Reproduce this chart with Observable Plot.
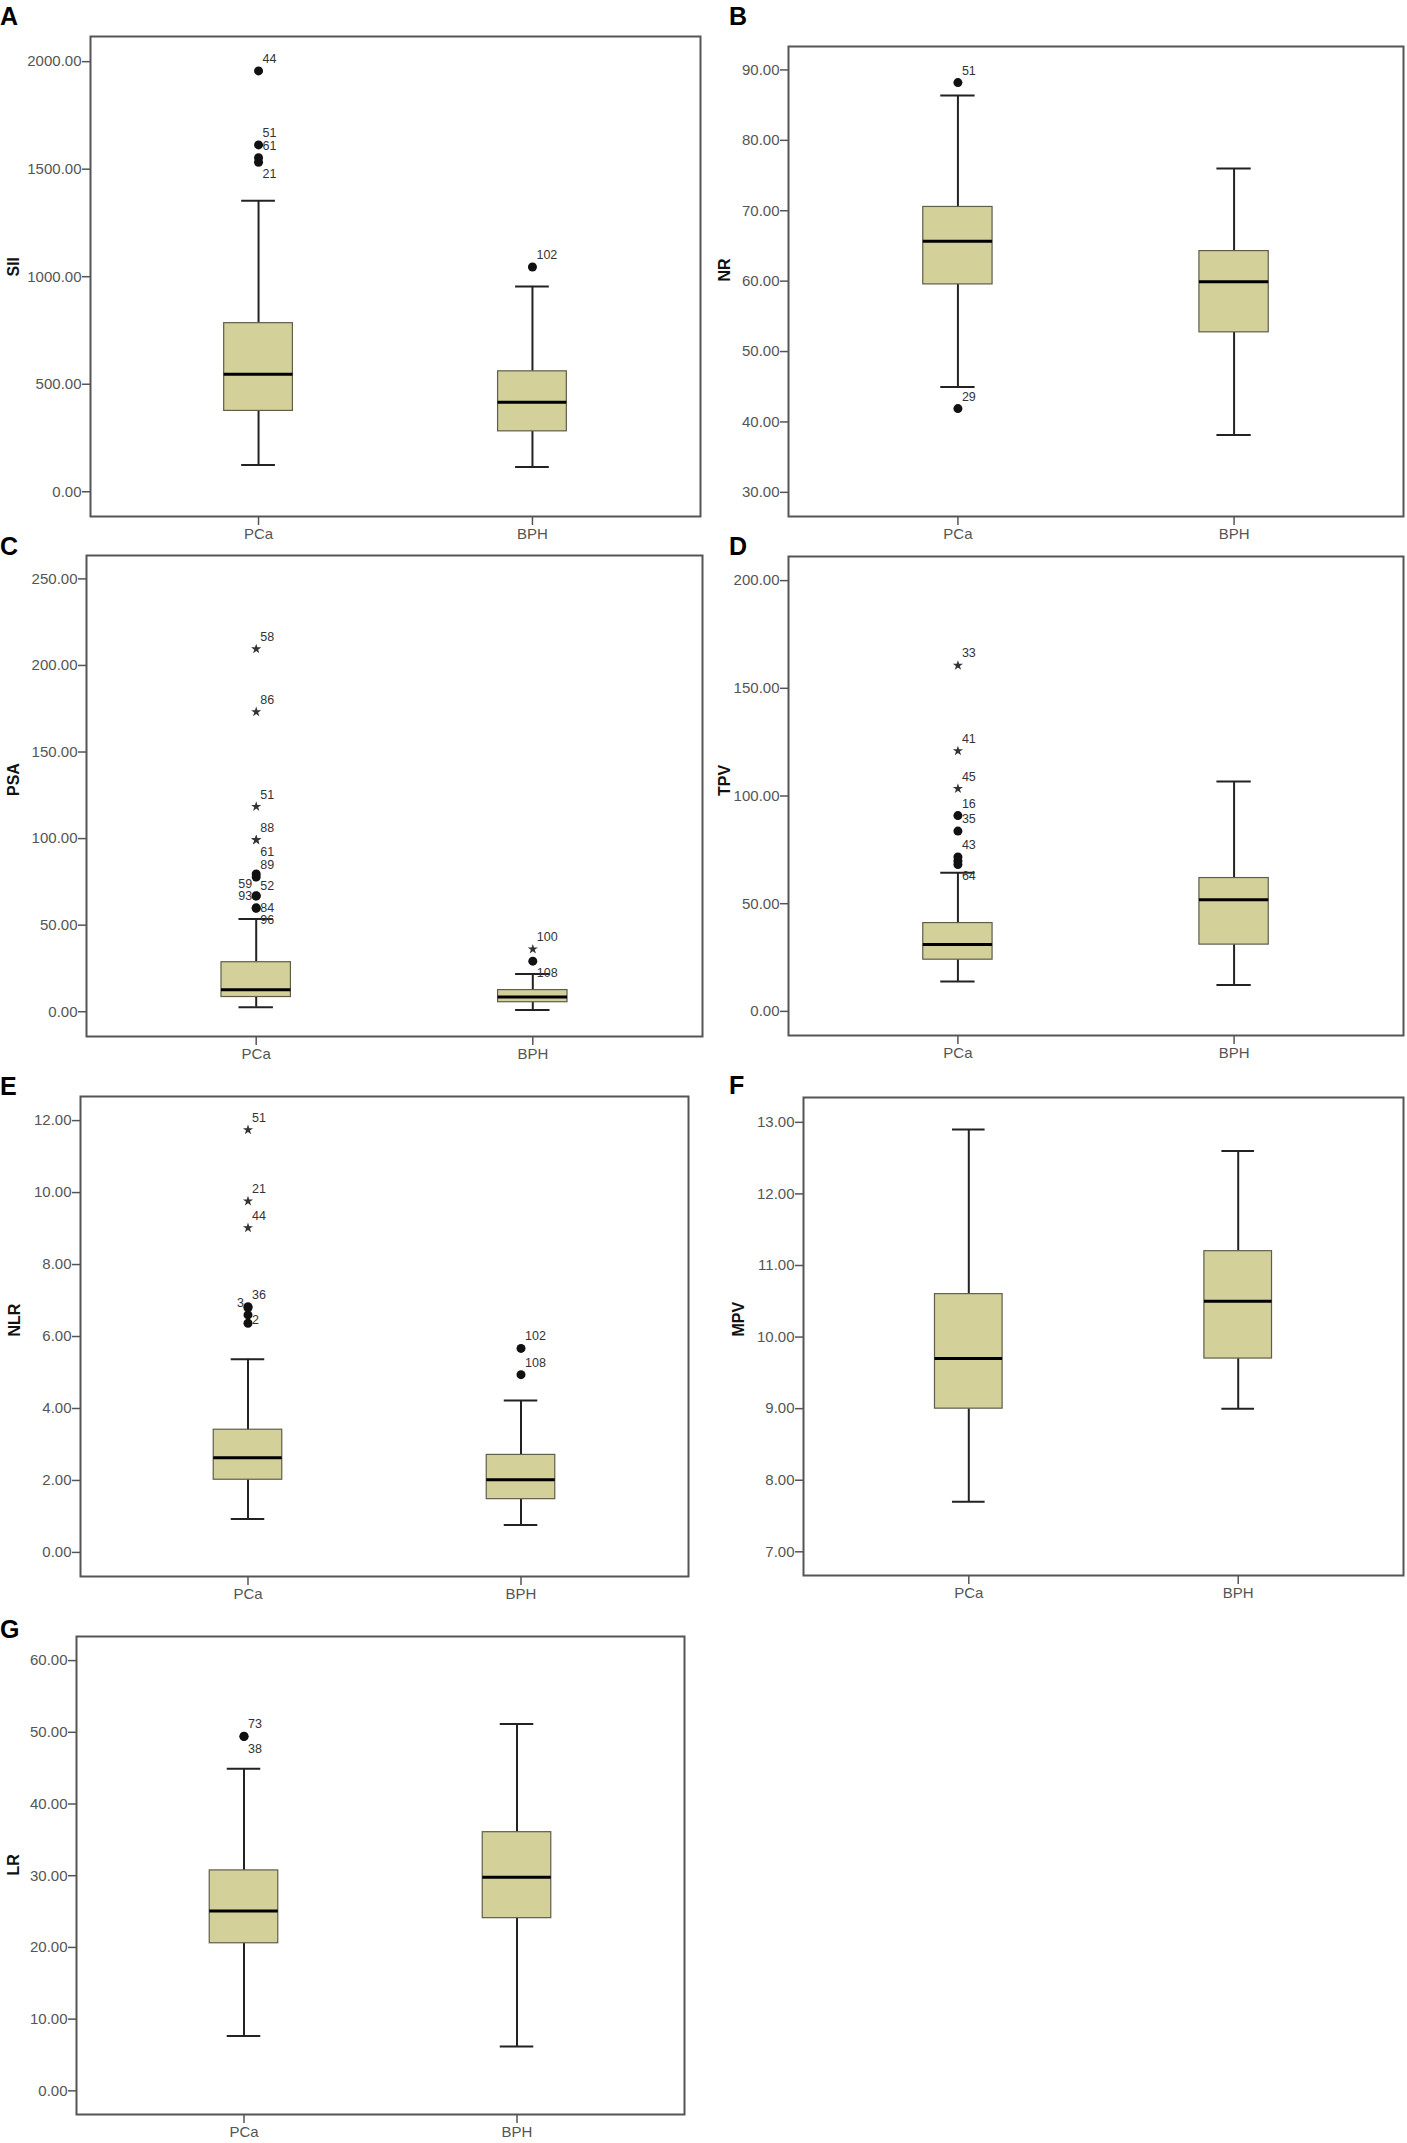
<!DOCTYPE html>
<html>
<head>
<meta charset="utf-8">
<script src="https://cdn.jsdelivr.net/npm/d3@7"></script>
<script src="https://cdn.jsdelivr.net/npm/@observablehq/plot@0.6"></script>
<style>
  body { margin: 0; background: #fff; }
  #root { position: relative; width: 1407px; height: 2143px; background: #fff; overflow: hidden; }
  .panel { position: absolute; }
  .letter { position: absolute; font: bold 25px "Liberation Sans", Arial, sans-serif; line-height: 25px; color: #000; }
</style>
</head>
<body>
<div id="root"></div>
<script>
// ---------------- DATA ----------------
const groups = ["PCa", "BPH"];
const panelLetters = ["A", "B", "C", "D", "E", "F", "G"];
const variableNames = ["SII", "NR", "PSA", "TPV", "NLR", "MPV", "LR"];

// five-number summaries: [lower whisker, Q1, median, Q3, upper whisker]
const siiPCa = [125, 376, 546, 784, 1353];
const siiBPH = [115, 281, 416, 560, 955];
const nrPCa  = [44.96, 59.54, 65.65, 70.54, 86.38];
const nrBPH  = [38.16, 52.73, 59.92, 64.27, 76.0];
const psaPCa = [2.6, 8.5, 12.7, 28.6, 53.6];
const psaBPH = [1.0, 5.5, 8.5, 12.5, 21.8];
const tpvPCa = [13.9, 24.0, 31.0, 41.0, 64.4];
const tpvBPH = [12.3, 31.0, 51.8, 61.9, 106.7];
const nlrPCa = [0.93, 2.02, 2.63, 3.41, 5.37];
const nlrBPH = [0.76, 1.48, 2.02, 2.71, 4.22];
const mpvPCa = [7.7, 9.0, 9.7, 10.6, 12.9];
const mpvBPH = [9.0, 9.7, 10.5, 11.2, 12.6];
const lrPCa  = [7.63, 20.58, 25.08, 30.74, 44.9];
const lrBPH  = [6.19, 24.08, 29.78, 36.07, 51.17];

// outliers (circle = outlier, star = extreme)
const siiOutliers = [
  {group: "PCa", value: 1957, label: "44", type: "circle"},
  {group: "PCa", value: 1613, label: "51", type: "circle"},
  {group: "PCa", value: 1553, label: "61", type: "circle"},
  {group: "PCa", value: 1532, label: "21", type: "circle"},
  {group: "BPH", value: 1045, label: "102", type: "circle"}
];
const nrOutliers = [
  {group: "PCa", value: 88.2, label: "51", type: "circle"},
  {group: "PCa", value: 41.9, label: "29", type: "circle"}
];
const psaOutliers = [
  {group: "PCa", value: 209.5, label: "58", type: "star"},
  {group: "PCa", value: 173.2, label: "86", type: "star"},
  {group: "PCa", value: 118.5, label: "51", type: "star"},
  {group: "PCa", value: 99.2, label: "88", type: "star"},
  {group: "PCa", value: 99.2, label: "61", type: "star"},
  {group: "PCa", value: 79.6, label: "52", type: "circle"},
  {group: "PCa", value: 77.8, label: "89", type: "circle"},
  {group: "PCa", value: 67.0, label: "84", type: "circle"},
  {group: "PCa", value: 66.8, label: "59", type: "circle"},
  {group: "PCa", value: 60.0, label: "96", type: "circle"},
  {group: "PCa", value: 59.8, label: "93", type: "circle"},
  {group: "BPH", value: 36.1, label: "100", type: "star"},
  {group: "BPH", value: 29.2, label: "108", type: "circle"}
];
const tpvOutliers = [
  {group: "PCa", value: 160.6, label: "33", type: "star"},
  {group: "PCa", value: 120.9, label: "41", type: "star"},
  {group: "PCa", value: 103.4, label: "45", type: "star"},
  {group: "PCa", value: 90.9, label: "16", type: "circle"},
  {group: "PCa", value: 83.7, label: "35", type: "circle"},
  {group: "PCa", value: 71.7, label: "43", type: "circle"},
  {group: "PCa", value: 69.8, label: "", type: "circle"},
  {group: "PCa", value: 68.2, label: "64", type: "circle"}
];
const nlrOutliers = [
  {group: "PCa", value: 11.74, label: "51", type: "star"},
  {group: "PCa", value: 9.76, label: "21", type: "star"},
  {group: "PCa", value: 9.02, label: "44", type: "star"},
  {group: "PCa", value: 6.83, label: "36", type: "circle"},
  {group: "PCa", value: 6.80, label: "2", type: "circle"},
  {group: "PCa", value: 6.60, label: "3", type: "circle"},
  {group: "PCa", value: 6.37, label: "", type: "circle"},
  {group: "BPH", value: 5.67, label: "102", type: "circle"},
  {group: "BPH", value: 4.94, label: "108", type: "circle"}
];
const mpvOutliers = [];
const lrOutliers = [
  {group: "PCa", value: 49.46, label: "73", type: "circle"},
  {group: "PCa", value: 49.40, label: "38", type: "circle"}
];

// y tick values per panel
const siiTicks = [0, 500, 1000, 1500, 2000];
const nrTicks  = [30, 40, 50, 60, 70, 80, 90];
const psaTicks = [0, 50, 100, 150, 200, 250];
const tpvTicks = [0, 50, 100, 150, 200];
const nlrTicks = [0, 2, 4, 6, 8, 10, 12];
const mpvTicks = [7, 8, 9, 10, 11, 12, 13];
const lrTicks  = [0, 10, 20, 30, 40, 50, 60];

// y axis extents per panel
const siiDomain = [-115, 2117];
const nrDomain  = [26.57, 93.33];
const psaDomain = [-14.3, 263.5];
const tpvDomain = [-11.2, 211.2];
const nlrDomain = [-0.669, 12.67];
const mpvDomain = [6.669, 13.347];
const lrDomain  = [-3.30, 63.36];

// ---------------- LAYOUT (styles) ----------------
// frame box of each panel in page pixels: [left, top, right, bottom]
const frames = [
  [90, 36, 700, 516],
  [788, 46, 1403, 516],
  [86, 555, 702, 1036],
  [788, 556, 1403, 1035],
  [80, 1096, 688, 1576],
  [803, 1097, 1403, 1575],
  [76, 1636, 684, 2114]
];
const letterPos = [[0, 4], [729, 4], [0, 534], [729, 534], [0, 1074], [729, 1073], [0, 1617]];
const yLabelDx = [-77, -64, -73, -64, -66, -65, -63];

const panels = [
  {stats: [siiPCa, siiBPH], outliers: siiOutliers, ticks: siiTicks, domain: siiDomain},
  {stats: [nrPCa, nrBPH], outliers: nrOutliers, ticks: nrTicks, domain: nrDomain},
  {stats: [psaPCa, psaBPH], outliers: psaOutliers, ticks: psaTicks, domain: psaDomain},
  {stats: [tpvPCa, tpvBPH], outliers: tpvOutliers, ticks: tpvTicks, domain: tpvDomain},
  {stats: [nlrPCa, nlrBPH], outliers: nlrOutliers, ticks: nlrTicks, domain: nlrDomain},
  {stats: [mpvPCa, mpvBPH], outliers: mpvOutliers, ticks: mpvTicks, domain: mpvDomain},
  {stats: [lrPCa, lrBPH], outliers: lrOutliers, ticks: lrTicks, domain: lrDomain}
];

const FONT = '"Liberation Sans", Arial, sans-serif';
const root = document.getElementById("root");

// simple collision-avoiding placement of case labels next to outliers
function placeLabels(outliers, yPix) {
  const placed = {PCa: [], BPH: []};
  const cands = [["ra", 1, -1], ["rb", 1, 1], ["la", -1, -1], ["lb", -1, 1]];
  const out = {ra: [], la: [], rb: [], lb: []};
  const sorted = outliers.filter(d => d.label).slice().sort((a, b) => b.value - a.value);
  for (const d of sorted) {
    const py = yPix(d.value);
    let done = false;
    for (const [key, side, vert] of cands) {
      const ly = py + vert * 12;
      const clash = placed[d.group].some(p => p.side === side && Math.abs(p.y - ly) < 12);
      if (!clash) { placed[d.group].push({side, y: ly}); out[key].push(d); done = true; break; }
    }
    if (!done) { placed[d.group].push({side: 1, y: py - 12}); out.ra.push(d); }
  }
  return out;
}

panels.forEach((p, i) => {
  const [fl, ft, fr, fb] = frames[i];
  const colLeft = fl < 704 ? 0 : 704;
  const colWidth = colLeft === 0 ? 704 : 703;
  const mTop = 36, mBottom = 30;
  const svgTop = ft - mTop;
  const height = (fb - ft) + mTop + mBottom;

  const boxes = groups.map((g, j) => {
    const s = p.stats[j];
    return {group: g, lo: s[0], q1: s[1], med: s[2], q3: s[3], hi: s[4]};
  });
  const circles = p.outliers.filter(d => d.type === "circle");
  const stars = p.outliers.filter(d => d.type === "star");
  const yPix = d3.scaleLinear().domain(p.domain).range([fb, ft]);
  const lab = placeLabels(p.outliers, yPix);
  const labOpts = {x: "group", y: "value", text: "label", fontSize: 12.5, fill: "#333", fontFamily: FONT};

  const chart = Plot.plot({
    width: colWidth,
    height,
    marginLeft: fl - colLeft,
    marginRight: colLeft + colWidth - fr,
    marginTop: mTop,
    marginBottom: mBottom,
    style: {background: "none", overflow: "visible", fontFamily: FONT, fontSize: "15px"},
    x: {type: "band", domain: groups, paddingInner: 0.749, paddingOuter: 0.488, round: false, label: null},
    y: {domain: p.domain, label: null},
    marks: [
      Plot.ruleX(boxes, {x: "group", y1: "q3", y2: "hi", stroke: "#222", strokeWidth: 2}),
      Plot.ruleX(boxes, {x: "group", y1: "lo", y2: "q1", stroke: "#222", strokeWidth: 2}),
      Plot.tickY(boxes, {x: "group", y: "hi", stroke: "#222", strokeWidth: 2, insetLeft: 17.5, insetRight: 17.5}),
      Plot.tickY(boxes, {x: "group", y: "lo", stroke: "#222", strokeWidth: 2, insetLeft: 17.5, insetRight: 17.5}),
      Plot.barY(boxes, {x: "group", y1: "q1", y2: "q3", fill: "#d4d09a", stroke: "#5f5e4a", strokeWidth: 1.2}),
      Plot.tickY(boxes, {x: "group", y: "med", stroke: "#000", strokeWidth: 3}),
      Plot.dot(circles, {x: "group", y: "value", r: 4.5, fill: "#111", stroke: "none"}),
      Plot.dot(stars, {x: "group", y: "value", symbol: "star", r: 3.2, fill: "#333", stroke: "none"}),
      Plot.text(lab.ra, {...labOpts, dx: 4, dy: -12, textAnchor: "start"}),
      Plot.text(lab.la, {...labOpts, dx: -4, dy: -12, textAnchor: "end"}),
      Plot.text(lab.rb, {...labOpts, dx: 4, dy: 12, textAnchor: "start"}),
      Plot.text(lab.lb, {...labOpts, dx: -4, dy: 12, textAnchor: "end"}),
      Plot.frame({stroke: "#555", strokeWidth: 2}),
      Plot.axisY({ticks: p.ticks, tickFormat: d3.format(".2f"), tickSize: 8, tickPadding: 1, label: null, color: "#555", strokeWidth: 1.5, fontSize: 15}),
      Plot.axisX({tickSize: 9, tickPadding: 3, label: null, color: "#555", strokeWidth: 1.5, fontSize: 15}),
      Plot.text([variableNames[i]], {text: d => d, frameAnchor: "left", dx: yLabelDx[i], rotate: -90, fontWeight: "bold", fontSize: 16, fill: "#111", fontFamily: FONT})
    ]
  });
  chart.classList.add("panel");
  chart.style.left = colLeft + "px";
  chart.style.top = svgTop + "px";
  root.appendChild(chart);

  const L = document.createElement("div");
  L.className = "letter";
  L.textContent = panelLetters[i];
  L.style.left = letterPos[i][0] + "px";
  L.style.top = letterPos[i][1] + "px";
  root.appendChild(L);
});
</script>
</body>
</html>
